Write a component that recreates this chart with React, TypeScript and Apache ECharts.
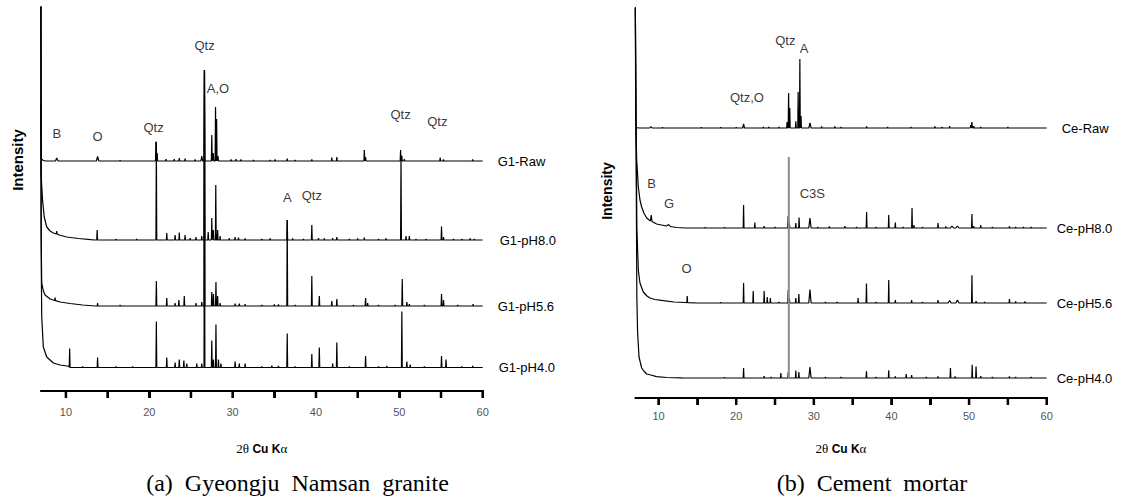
import React, { useEffect, useRef } from 'react';
import * as echarts from 'echarts';

// ---------- axis ----------
const twoThetaMin = 7;
const twoThetaMax = 60;
const tickValues = [10, 15, 20, 25, 30, 35, 40, 45, 50, 55, 60];
const tickLabelValues = [10, 20, 30, 40, 50, 60];

// ---------- (a) Gyeongju Namsan granite ----------
const graniteNames = ['G1-Raw', 'G1-pH8.0', 'G1-pH5.6', 'G1-pH4.0'];
const graniteOffsets = [230, 151, 85, 23.5];
const graniteLowAngle = [
  [[7.0, 288], [7.05, 232], [7.3, 230.5], [7.6, 230]],
  [[7.0, 400], [7.02, 218], [7.1, 205], [7.2, 191], [7.4, 174], [7.7, 164], [8.1, 160], [8.5, 158], [8.85, 157], [8.9, 160], [8.95, 157], [9.2, 156], [10.1, 154], [11.5, 152.5], [13, 151.3], [13.5, 151]],
  [[7.0, 400], [7.02, 160], [7.1, 108], [7.3, 100], [7.5, 96], [8.1, 92], [8.65, 90.5], [8.7, 93.5], [8.75, 90.3], [9.3, 89], [10.5, 87.5], [12, 86], [13.5, 85]],
  [[7.0, 400], [7.05, 120], [7.1, 74], [7.29, 44], [7.7, 34], [8.5, 28], [9.3, 26], [10.1, 25], [10.4, 24.6]],
];
const granitePeaks = [
  [[8.9, 3, 0.15], [13.8, 4.5, 0.15], [16.5, 0.8], [20.8, 19.5], [20.95, 8], [22.0, 2], [23.0, 2], [23.6, 3], [24.3, 2.5], [25.5, 1.5], [26.3, 5, 0.1], [26.62, 91], [27.5, 26], [27.68, 8], [27.95, 54], [28.08, 42], [28.25, 5], [29.8, 1.5], [30.4, 2], [31.0, 1.5], [32.5, 1], [34.5, 1], [35.1, 1.5], [36.55, 2.5], [37.5, 1], [39.5, 1.5], [41.9, 3.5], [42.5, 4], [45.8, 11], [45.95, 4], [50.15, 11], [50.3, 5], [50.6, 2], [54.9, 3.5], [55.3, 1.5], [58.8, 1.5]],
  [[13.75, 10], [16.0, 1], [18.5, 1], [20.85, 98], [22.1, 7], [23.1, 5], [23.6, 7.5], [24.3, 5], [24.9, 2], [25.6, 3], [26.3, 4], [26.62, 170], [27.07, 8], [27.5, 22], [27.68, 10], [27.98, 55], [28.2, 10], [28.5, 4], [29.6, 2], [30.3, 3], [30.7, 2.5], [31.5, 1.5], [33.5, 1], [34.5, 1.5], [36.55, 20], [37.2, 1.5], [38.5, 1], [39.5, 15], [40.3, 2], [41.0, 1.5], [42.0, 2], [42.5, 3], [44.0, 1], [45.0, 1.5], [45.8, 2.5], [47.5, 1], [48.4, 1.5], [50.2, 85], [50.8, 4], [51.2, 4], [52.0, 1], [53.2, 1], [55.06, 13.5], [55.3, 3], [56.5, 1], [57.5, 1], [58.5, 1.5], [59.0, 1]],
  [[13.8, 3], [16.5, 1], [20.85, 25], [22.1, 8], [23.1, 3], [23.55, 6], [24.2, 10], [25.6, 3], [26.3, 4], [26.62, 236], [27.5, 14], [27.7, 12], [28.0, 24], [28.2, 10], [28.5, 3], [30.3, 2.5], [30.8, 2.5], [31.5, 2], [33.5, 1], [35.0, 1.5], [35.5, 1.5], [36.55, 86], [37.5, 1], [39.5, 30], [40.4, 10], [41.9, 5], [42.5, 7], [44.5, 1], [45.95, 8], [46.2, 3], [47.5, 1], [49.5, 1], [50.35, 27], [50.9, 4], [51.2, 2], [53.0, 1], [55.06, 12], [55.3, 6], [57.0, 1], [58.85, 2]],
  [[10.45, 19], [12.0, 1], [13.8, 10], [16.0, 1], [18.0, 1], [20.85, 46], [22.1, 10], [23.1, 5], [23.6, 8], [24.15, 7], [24.5, 4], [25.7, 4], [26.3, 4], [26.62, 297], [27.5, 27], [27.7, 8], [28.0, 43], [28.3, 8], [28.6, 4], [30.3, 6], [30.8, 4], [31.5, 4], [33.5, 1], [34.7, 2], [35.5, 1.5], [36.55, 34], [37.5, 1], [39.5, 13.5], [40.4, 20], [42.0, 4], [42.5, 25], [44.0, 1], [45.95, 11.5], [47.5, 1], [48.5, 1.5], [50.3, 56], [50.9, 6], [51.3, 3], [53.0, 1], [55.06, 11.5], [55.6, 8], [57.5, 1], [58.8, 1.5]],
];
const granitePhaseLabels = ['B', 'O', 'Qtz', 'Qtz', 'A,O', 'Qtz', 'Qtz', 'A', 'Qtz'];
const granitePhaseTheta = [8.9, 13.8, 20.52, 26.64, 28.24, 50.15, 54.55, 36.55, 39.5];
const granitePhaseLevel = [258, 255, 264, 346, 303, 277, 270, 194, 196];

// ---------- (b) Cement mortar ----------
const cementNames = ['Ce-Raw', 'Ce-pH8.0', 'Ce-pH5.6', 'Ce-pH4.0'];
const cementOffsets = [270, 170, 95, 20];
const cementLowAngle = [
  [[7.0, 270.5], [7.5, 270]],
  [[7.0, 400], [7.05, 280], [7.18, 238], [7.39, 211], [7.6, 198], [7.82, 191], [8.1, 185], [8.47, 180], [8.95, 177], [9.05, 183], [9.15, 176.5], [9.75, 174], [11, 172], [11.3, 173.5], [11.5, 171.5], [12.3, 170.5], [13.5, 170]],
  [[7.0, 400], [7.2, 170], [7.39, 128], [7.6, 115], [8.03, 106], [8.5, 102], [8.9, 100], [9.5, 98.5], [10.6, 97.3], [12, 96], [13.5, 95.5], [13.64, 95.4], [13.69, 102], [13.74, 95.3], [15, 95]],
  [[7.0, 400], [7.2, 100], [7.3, 65], [7.48, 41], [7.82, 30], [8.1, 27], [8.47, 24], [9.0, 23], [9.75, 21.3], [11, 20.5], [13, 20.2], [15, 20]],
];
const cementPeaks = [
  [[9.0, 1.5, 0.15], [10.5, 0.8], [12.5, 0.5], [15.5, 0.8], [18, 0.8], [20.0, 0.8], [20.95, 4, 0.12], [23.5, 1], [24.2, 1], [25.5, 1], [26.55, 6], [26.75, 35], [26.9, 20], [27.68, 6.6], [27.98, 36], [28.2, 69], [28.35, 12], [29.5, 5, 0.15], [31.0, 1.5], [32.7, 1.5], [33.5, 1], [36.8, 1.5], [39.5, 1], [42.5, 1], [45.6, 1.5], [46.5, 1], [47.5, 2], [50.2, 3], [50.37, 6], [50.6, 2], [51.5, 1], [55.0, 1]],
  [[16.0, 0.8], [18.5, 0.8], [20.95, 23], [22.4, 5.5], [23.6, 2], [25.0, 1], [26.69, 12], [26.85, 5], [27.68, 5], [28.1, 10.5], [29.5, 10, 0.15], [30.5, 1], [32.0, 1.5], [34.0, 2], [35.5, 1], [36.8, 16], [38.0, 1], [39.65, 13], [40.5, 5.5], [41.5, 1], [42.65, 20], [42.9, 3], [44.0, 1], [46.0, 5], [47.0, 1.5], [47.8, 2, 0.2], [48.5, 2, 0.2], [50.37, 14], [50.6, 2], [51.5, 3], [53, 1], [55.2, 1.5], [56.0, 1], [57.0, 1], [58.0, 1]],
  [[18.0, 0.8], [20.95, 20], [22.19, 12], [23.6, 12], [24.0, 6], [24.4, 5], [25.5, 1], [26.7, 13], [26.85, 5], [27.68, 5], [28.07, 9], [29.5, 13.5, 0.15], [31.5, 1], [33, 1], [35.7, 5], [36.78, 19.5], [38, 1], [39.65, 23], [40.5, 3], [42.6, 3], [44, 1], [46.0, 3], [47.5, 2.5, 0.2], [48.5, 3, 0.2], [50.37, 27.7], [50.9, 2], [52, 1], [55.2, 4], [56.0, 1.5], [57.2, 1.5]],
  [[18.5, 0.8], [20.95, 10], [23.6, 2], [24.5, 1], [25.75, 5], [26.7, 5.7], [27.68, 7.5], [28.07, 6], [29.5, 11, 0.15], [31.5, 1], [33.5, 1], [36.78, 6.7], [38, 1], [39.65, 7.7], [40.5, 1.5], [41.9, 4], [42.6, 3], [44.5, 1], [46, 1.5], [47.6, 10], [48.2, 1.5], [50.4, 13.3], [50.9, 11.6], [51.5, 2], [53, 1], [55.2, 1.5], [56, 1], [58, 1]],
];
const cementRefLine = [[26.78, 20], [26.78, 241]];
const cementPhaseLabels = ['Qtz', 'A', 'Qtz,O', 'B', 'G', 'C3S', 'O'];
const cementPhaseTheta = [26.33, 28.75, 21.38, 9.1, 11.34, 29.8, 13.6];
const cementPhaseLevel = [358, 350, 301, 215, 195, 205, 130];

const SANS = '"Liberation Sans", Arial, sans-serif';
const SERIF = '"Liberation Serif", "Times New Roman", serif';

function buildTrace(offset: number, lowAngle: number[][], peaks: number[][]) {
  const pts: number[][] = lowAngle.map((p) => [p[0], p[1]]);
  for (const pk of peaks) {
    const w = pk[2] ?? 0.05;
    pts.push([pk[0] - w, offset], [pk[0], offset + pk[1]], [pk[0] + w, offset]);
  }
  pts.push([twoThetaMax, offset]);
  return pts;
}

function xAxisFor(gridIndex: number, labelMargin: number, nameGap: number) {
  return {
    type: 'value',
    gridIndex,
    min: twoThetaMin,
    max: twoThetaMax,
    axisLine: { show: true, lineStyle: { color: '#000', width: 2 } },
    axisTick: { show: true, customValues: tickValues, length: 7, lineStyle: { color: '#000', width: 2 } },
    axisLabel: { customValues: tickLabelValues, color: '#555', fontSize: 11, margin: labelMargin, fontFamily: SANS },
    splitLine: { show: false },
    name: '{a|2θ} {b|Cu K}{a|α}',
    nameLocation: 'middle',
    nameGap,
    nameTextStyle: {
      rich: {
        a: { fontFamily: SERIF, fontSize: 13, color: '#000' },
        b: { fontFamily: SANS, fontWeight: 'bold', fontSize: 12, color: '#000' },
      },
    },
  };
}

// tick marks hanging below the axis line, positioned by the axis scale
function tickSeries(axis: number) {
  return {
    type: 'custom',
    xAxisIndex: axis,
    yAxisIndex: axis,
    silent: true,
    clip: false,
    z: 10,
    data: tickValues.map((v) => [v, 0]),
    renderItem: (params: any, api: any) => {
      const p = api.coord([api.value(0), api.value(1)]);
      return {
        type: 'rect',
        shape: { x: p[0] - 1.25, y: p[1] - 1, width: 2.5, height: 8 },
        style: { fill: '#000' },
      };
    },
  };
}

function traceSeries(names: string[], offsets: number[], low: number[][][], peaks: number[][][], axis: number, distances: number[]) {
  return names.map((name, i) => ({
    type: 'line',
    name,
    xAxisIndex: axis,
    yAxisIndex: axis,
    data: buildTrace(offsets[i], low[i], peaks[i]),
    symbol: 'none',
    silent: true,
    lineStyle: { color: '#000', width: 1.2 },
    endLabel: { show: true, formatter: '{a}', distance: distances[i], fontSize: 13, color: '#000', fontFamily: SANS },
  }));
}

function labelSeries(labels: string[], theta: number[], level: number[], axis: number) {
  return {
    type: 'scatter',
    xAxisIndex: axis,
    yAxisIndex: axis,
    symbolSize: 0,
    silent: true,
    data: labels.map((t, i) => ({ name: t, value: [theta[i], level[i]] })),
    label: { show: true, position: 'inside', formatter: '{b}', fontSize: 13, color: '#000', fontFamily: SANS },
  };
}

export default function App() {
  const ref = useRef<HTMLDivElement>(null);
  useEffect(() => {
    document.body.style.margin = '0';
    if (!ref.current) return;
    const chart = echarts.init(ref.current, undefined, { renderer: 'svg' });
    chart.setOption({
      animation: false,
      backgroundColor: '#fff',
      grid: [
        { left: 40.9, right: 641.3, top: 7, bottom: 110 },
        { left: 635.3, right: 77.3, top: 8, bottom: 103 },
      ],
      xAxis: [xAxisFor(0, 15, 51), xAxisFor(1, 12, 44)],
      yAxis: [
        { type: 'value', gridIndex: 0, min: 0, max: 384, show: false },
        { type: 'value', gridIndex: 1, min: 0, max: 390, show: false },
      ],
      series: [
        ...traceSeries(graniteNames, graniteOffsets, graniteLowAngle, granitePeaks, 0, [15, 17, 15, 16]),
        ...traceSeries(cementNames, cementOffsets, cementLowAngle, cementPeaks, 1, [15, 10, 10, 10]),
        {
          type: 'line',
          name: 'C3S',
          xAxisIndex: 1,
          yAxisIndex: 1,
          data: cementRefLine,
          symbol: 'none',
          silent: true,
          lineStyle: { color: '#8c8c8c', width: 2 },
        },
        labelSeries(granitePhaseLabels, granitePhaseTheta, granitePhaseLevel, 0),
        labelSeries(cementPhaseLabels, cementPhaseTheta, cementPhaseLevel, 1),
        tickSeries(0),
        tickSeries(1),
      ],
      graphic: [
        { type: 'text', x: 17, y: 160, rotation: Math.PI / 2, style: { text: 'Intensity', fontSize: 15, fontWeight: 'bold', fontFamily: SANS, fill: '#000', align: 'center', verticalAlign: 'middle' } },
        { type: 'text', x: 607, y: 191, rotation: Math.PI / 2, style: { text: 'Intensity', fontSize: 14, fontWeight: 'bold', fontFamily: SANS, fill: '#000', align: 'center', verticalAlign: 'middle' } },
        { type: 'text', x: 297.5, y: 483, style: { text: '(a)  Gyeongju  Namsan  granite', fontSize: 24, fontFamily: SERIF, fill: '#000', align: 'center', verticalAlign: 'middle' } },
        { type: 'text', x: 872, y: 483, style: { text: '(b)  Cement  mortar', fontSize: 24, fontFamily: SERIF, fill: '#000', align: 'center', verticalAlign: 'middle' } },
      ],
    });
    return () => chart.dispose();
  }, []);
  return <div ref={ref} style={{ width: '1124px', height: '501px' }} />;
}
